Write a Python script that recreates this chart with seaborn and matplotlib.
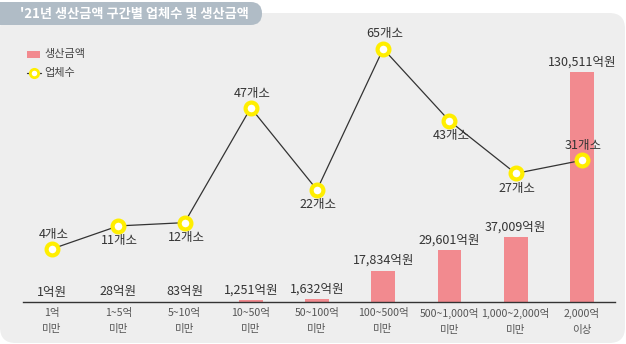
import matplotlib
matplotlib.use("Agg")
import matplotlib.pyplot as plt
from matplotlib.patches import FancyBboxPatch, Rectangle
from matplotlib.lines import Line2D
import seaborn as sns
import pandas as pd

categories = ["1억\n미만", "1~5억\n미만", "5~10억\n미만", "10~50억\n미만", "50~100억\n미만",
              "100~500억\n미만", "500~1,000억\n미만", "1,000~2,000억\n미만", "2,000억\n이상"]
production = [1, 28, 83, 1251, 1632, 17834, 29601, 37009, 130511]
companies = [4, 11, 12, 47, 22, 65, 43, 27, 31]
label_pos = ["above", "below", "below", "above", "below", "above", "below", "below", "above"]
title = "'21년 생산금액 구간별 업체수 및 생산금액"

sns.set_theme(style="white")
plt.rcParams["font.family"] = ["Noto Sans CJK KR", "DejaVu Sans"]

W, H = 626, 344
fig = plt.figure(figsize=(W / 100, H / 100), dpi=100)
fig.patch.set_facecolor("white")

# background panel
panel = FancyBboxPatch((0 / W, 1 / H), (W - 1) / W, (H - 14) / H,
                       boxstyle="round,pad=0,rounding_size=0.025",
                       transform=fig.transFigure, facecolor="#eeeeee",
                       edgecolor="none", zorder=-2, mutation_aspect=W / H)
fig.patches.append(panel)
# title tab
tab = FancyBboxPatch((-20 / W, (H - 25) / H), 282 / W, 23 / H,
                     boxstyle="round,pad=0,rounding_size=0.018",
                     transform=fig.transFigure, facecolor="#b0bcc6",
                     edgecolor="none", zorder=-1, mutation_aspect=W / H)
fig.patches.append(tab)
fig.text(20 / W, (H - 13.5) / H, title, color="white", fontsize=9.5,
         fontweight="bold", va="center", ha="left")

df = pd.DataFrame({"cat": categories, "prod": production, "cnt": companies})

ax = fig.add_axes([19 / W, 42 / H, 596 / W, 262 / H], zorder=2)
ax.set_facecolor("none")
sns.barplot(data=df, x="cat", y="prod", color="#f28a8f", width=0.36,
            saturation=1, ax=ax, zorder=2, edgecolor="none", linewidth=0)
ax.set_ylim(0, 130511 * 262 / 230)
ax.set_xlim(-0.5, 8.5)
for s in ["top", "right", "left"]:
    ax.spines[s].set_visible(False)
ax.spines["bottom"].set_color("#333333")
ax.spines["bottom"].set_linewidth(1.0)
ax.spines["bottom"].set_bounds(-0.44, 8.5)
ax.set_yticks([])
ax.set_xlabel("")
ax.set_ylabel("")
ax.tick_params(axis="x", length=0, pad=4, labelsize=7.6, labelcolor="#555555")
for lab in ax.get_xticklabels():
    lab.set_linespacing(1.75)

for i, v in enumerate(production):
    ax.annotate(f"{v:,}억원", (i, v), xytext=(0, 2.5), textcoords="offset points",
                ha="center", va="bottom", fontsize=9, color="#333333")

ax2 = ax.twinx()
ax2.set_facecolor("none")
sns.lineplot(x=list(range(len(companies))), y=companies, ax=ax2, color="#333333",
             linewidth=0.9, marker="o", markersize=8.5, markerfacecolor="white",
             markeredgecolor="#ffee00", markeredgewidth=3, zorder=4)
ax2.set_ylim(-40 / 3.28, 222 / 3.28)
ax2.set_yticks([])
ax2.set_ylabel("")
for s in ax2.spines.values():
    s.set_visible(False)
for i, (v, p) in enumerate(zip(companies, label_pos)):
    if p == "above":
        ax2.annotate(f"{v}개소", (i, v), xytext=(1, 6), textcoords="offset points",
                     ha="center", va="bottom", fontsize=9, color="#333333")
    else:
        ax2.annotate(f"{v}개소", (i, v), xytext=(1, -6), textcoords="offset points",
                     ha="center", va="top", fontsize=9, color="#333333")

# legend
fig.patches.append(Rectangle((27 / W, (H - 58) / H), 13 / W, 7 / H,
                             transform=fig.transFigure, facecolor="#f28a8f",
                             edgecolor="none", zorder=3))
fig.text(44 / W, (H - 54.5) / H, "생산금액", fontsize=8, color="#444444", va="center")
fig.lines.append(Line2D([27 / W, 41 / W], [(H - 73) / H] * 2, transform=fig.transFigure,
                        color="#333333", linewidth=0.9, zorder=3))
fig.lines.append(Line2D([34 / W], [(H - 73) / H], transform=fig.transFigure,
                        marker="o", markersize=6, markerfacecolor="white",
                        markeredgecolor="#ffee00", markeredgewidth=2, zorder=4))
fig.text(44 / W, (H - 73) / H, "업체수", fontsize=8, color="#444444", va="center")

fig.savefig("out.png", dpi=100)
